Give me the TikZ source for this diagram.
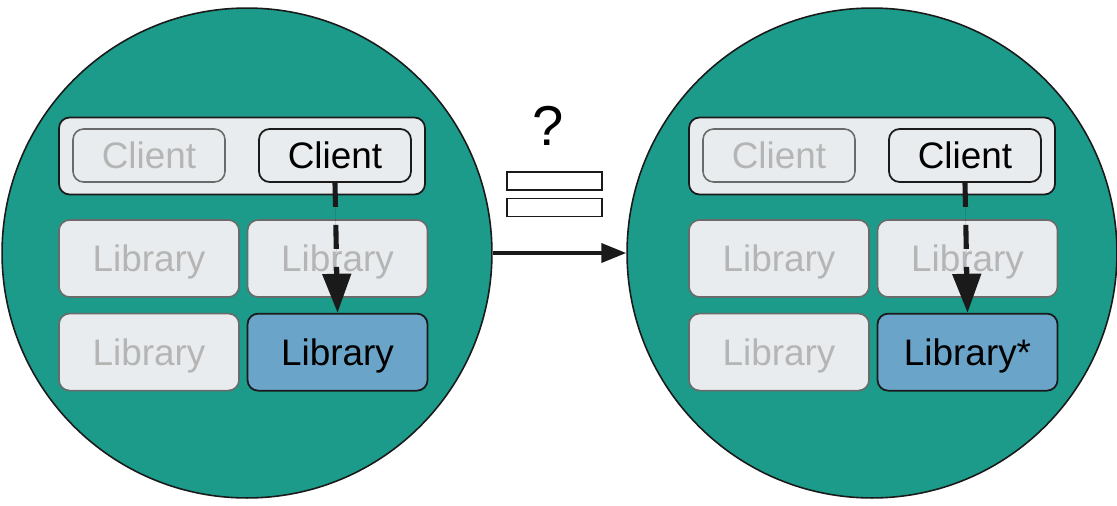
\documentclass[tikz,border=0pt]{standalone}
\usepackage{fontspec}
\setmainfont{Liberation Sans}
\usepackage{tikz}
\usetikzlibrary{arrows.meta, positioning}

\definecolor{worldteal}{HTML}{1C9A8A}
\definecolor{boxgray}{HTML}{E9ECEE}
\definecolor{fadedtext}{HTML}{B5B5B5}
\definecolor{fadedline}{HTML}{6A6A6A}
\definecolor{libblue}{HTML}{6AA4C9}
\definecolor{inkblack}{HTML}{1A1A1A}

\tikzset{
  world/.style  ={circle, draw=inkblack, line width=0.9pt, fill=worldteal,
                  minimum size=9.8cm, inner sep=0pt},
  group/.style  ={draw=inkblack, line width=1pt, rounded corners=6pt, fill=boxgray,
                  minimum width=7.32cm, minimum height=1.54cm},
  faded/.style  ={draw=fadedline, line width=0.9pt, rounded corners=6pt, fill=boxgray,
                  text=fadedtext, font=\fontsize{21}{25}\selectfont,
                  text height=15pt, text depth=0pt},
  active/.style ={draw=inkblack, line width=1pt, rounded corners=6pt, fill=boxgray,
                  text=black, font=\fontsize{21}{25}\selectfont,
                  text height=15pt, text depth=0pt},
  cbox/.style   ={minimum width=3.04cm, minimum height=1.06cm},
  lbox/.style   ={minimum width=3.6cm, minimum height=1.54cm},
  bar/.style    ={draw=inkblack, line width=1.1pt, fill=white,
                  minimum width=1.9cm, minimum height=0.36cm, inner sep=0pt},
  calls/.style  ={-{Triangle[length=0.78cm, width=0.56cm]}, draw=inkblack, fill=inkblack,
                  line width=2.9pt, dash pattern=on 0.48cm off 0.36cm},
  swap/.style   ={-{Triangle[length=0.5cm, width=0.38cm]}, draw=inkblack,
                  line width=2.2pt},
}

\begin{document}
\begin{tikzpicture}[x=0.02cm, y=-0.02cm]
  \useasboundingbox (0,0) rectangle (1117,505);

  % the two worlds
  \node[world] (leftworld)  at (247,253) {};
  \node[world] (rightworld) at (872,253) {};

  % left world
  \node[group]                      (lclients) at (242,156)   {};
  \node[faded, cbox]                (lcl0)     at (149,155.5) {Client};
  \node[active, cbox]               (lcl1)     at (335,155.5) {Client};
  \node[faded, lbox]                (llib1)    at (149,258.5) {Library};
  \node[faded, lbox, right=0.14cm of llib1]    (llib2) {Library};
  \node[faded, lbox, below=0.3cm of llib1]     (llib3) {Library};
  \node[active, lbox, fill=libblue, below=0.3cm of llib2] (llib4) {Library};
  \draw[calls] (lcl1.south) -- (llib4.north);

  % right world
  \node[group]                      (rclients) at (872,156)   {};
  \node[faded, cbox]                (rcl0)     at (779,155.5) {Client};
  \node[active, cbox]               (rcl1)     at (965,155.5) {Client};
  \node[faded, lbox]                (rlib1)    at (779,258.5) {Library};
  \node[faded, lbox, right=0.14cm of rlib1]    (rlib2) {Library};
  \node[faded, lbox, below=0.3cm of rlib1]     (rlib3) {Library};
  \node[active, lbox, fill=libblue, below=0.3cm of rlib2] (rlib4) {Library*};
  \draw[calls] (rcl1.south) -- (rlib4.north);

  % question in between
  \node[font=\fontsize{32}{36}\selectfont] (ask) at (548,126) {?};
  \node[bar] (bartop) at (554.5,181)   {};
  \node[bar] (barbot) at (554.5,207.5) {};
  \draw[swap] (leftworld.east) -- (rightworld.west);
\end{tikzpicture}
\end{document}
